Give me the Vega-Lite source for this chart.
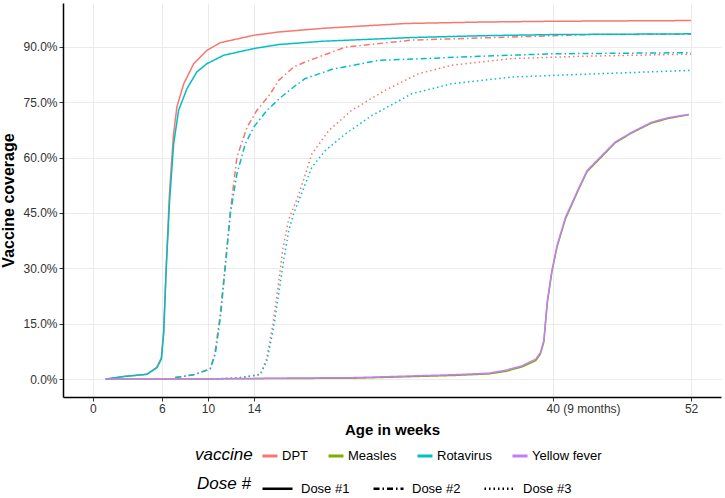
{
  "$schema": "https://vega.github.io/schema/vega-lite/v6.json",
  "autosize": {"type": "none"},
  "padding": {"left": 63, "top": 3, "right": 4, "bottom": 101},
  "width": 658,
  "height": 394,
  "background": "white",
  "config": {
    "font": "Liberation Sans",
    "view": {"stroke": null},
    "axis": {
      "domainColor": "black", "domainWidth": 1.5,
      "tickColor": "#333333", "tickSize": 4, "tickWidth": 1,
      "gridColor": "#EBEBEB", "gridWidth": 1,
      "labelColor": "#333333", "labelFontSize": 12, "labelPadding": 2,
      "titleColor": "black", "titleFontSize": 15, "titleFontWeight": "bold"
    },
    "legend": {
      "titleFontStyle": "italic", "titleFontWeight": "normal", "titleFontSize": 17, "titleColor": "black",
      "labelFontSize": 13, "labelColor": "black"
    }
  },
  "data": {"values": [
    {"vaccine":"DPT","dose":"Dose #1","week":1.1,"coverage":0},
    {"vaccine":"DPT","dose":"Dose #1","week":2.7,"coverage":0.007},
    {"vaccine":"DPT","dose":"Dose #1","week":4.7,"coverage":0.013},
    {"vaccine":"DPT","dose":"Dose #1","week":5.55,"coverage":0.032},
    {"vaccine":"DPT","dose":"Dose #1","week":5.95,"coverage":0.058},
    {"vaccine":"DPT","dose":"Dose #1","week":6.15,"coverage":0.13},
    {"vaccine":"DPT","dose":"Dose #1","week":6.38,"coverage":0.31},
    {"vaccine":"DPT","dose":"Dose #1","week":6.65,"coverage":0.50},
    {"vaccine":"DPT","dose":"Dose #1","week":7.0,"coverage":0.66},
    {"vaccine":"DPT","dose":"Dose #1","week":7.3,"coverage":0.737},
    {"vaccine":"DPT","dose":"Dose #1","week":7.9,"coverage":0.80},
    {"vaccine":"DPT","dose":"Dose #1","week":8.76,"coverage":0.854},
    {"vaccine":"DPT","dose":"Dose #1","week":9.9,"coverage":0.89},
    {"vaccine":"DPT","dose":"Dose #1","week":11.08,"coverage":0.911},
    {"vaccine":"DPT","dose":"Dose #1","week":13.97,"coverage":0.931},
    {"vaccine":"DPT","dose":"Dose #1","week":16.15,"coverage":0.94},
    {"vaccine":"DPT","dose":"Dose #1","week":20,"coverage":0.95},
    {"vaccine":"DPT","dose":"Dose #1","week":27.2,"coverage":0.963},
    {"vaccine":"DPT","dose":"Dose #1","week":34,"coverage":0.967},
    {"vaccine":"DPT","dose":"Dose #1","week":40,"coverage":0.969},
    {"vaccine":"DPT","dose":"Dose #1","week":52,"coverage":0.971},

    {"vaccine":"DPT","dose":"Dose #2","week":7.16,"coverage":0.004},
    {"vaccine":"DPT","dose":"Dose #2","week":8.76,"coverage":0.012},
    {"vaccine":"DPT","dose":"Dose #2","week":10.2,"coverage":0.028},
    {"vaccine":"DPT","dose":"Dose #2","week":10.6,"coverage":0.07},
    {"vaccine":"DPT","dose":"Dose #2","week":11.05,"coverage":0.17},
    {"vaccine":"DPT","dose":"Dose #2","week":11.5,"coverage":0.31},
    {"vaccine":"DPT","dose":"Dose #2","week":11.95,"coverage":0.455},
    {"vaccine":"DPT","dose":"Dose #2","week":12.52,"coverage":0.601},
    {"vaccine":"DPT","dose":"Dose #2","week":13.4,"coverage":0.682},
    {"vaccine":"DPT","dose":"Dose #2","week":14.26,"coverage":0.728},
    {"vaccine":"DPT","dose":"Dose #2","week":15.43,"coverage":0.773},
    {"vaccine":"DPT","dose":"Dose #2","week":16.15,"coverage":0.809},
    {"vaccine":"DPT","dose":"Dose #2","week":17.45,"coverage":0.845},
    {"vaccine":"DPT","dose":"Dose #2","week":18.47,"coverage":0.859},
    {"vaccine":"DPT","dose":"Dose #2","week":21.95,"coverage":0.899},
    {"vaccine":"DPT","dose":"Dose #2","week":27.7,"coverage":0.918},
    {"vaccine":"DPT","dose":"Dose #2","week":35,"coverage":0.925},
    {"vaccine":"DPT","dose":"Dose #2","week":43.1,"coverage":0.933},
    {"vaccine":"DPT","dose":"Dose #2","week":52,"coverage":0.934},

    {"vaccine":"DPT","dose":"Dose #3","week":10.8,"coverage":0},
    {"vaccine":"DPT","dose":"Dose #3","week":12.8,"coverage":0.004},
    {"vaccine":"DPT","dose":"Dose #3","week":14.55,"coverage":0.013},
    {"vaccine":"DPT","dose":"Dose #3","week":15.1,"coverage":0.055},
    {"vaccine":"DPT","dose":"Dose #3","week":15.65,"coverage":0.15},
    {"vaccine":"DPT","dose":"Dose #3","week":16.1,"coverage":0.25},
    {"vaccine":"DPT","dose":"Dose #3","week":16.5,"coverage":0.35},
    {"vaccine":"DPT","dose":"Dose #3","week":17.0,"coverage":0.43},
    {"vaccine":"DPT","dose":"Dose #3","week":17.45,"coverage":0.465},
    {"vaccine":"DPT","dose":"Dose #3","week":17.9,"coverage":0.50},
    {"vaccine":"DPT","dose":"Dose #3","week":19.04,"coverage":0.61},
    {"vaccine":"DPT","dose":"Dose #3","week":20.5,"coverage":0.673},
    {"vaccine":"DPT","dose":"Dose #3","week":22.5,"coverage":0.728},
    {"vaccine":"DPT","dose":"Dose #3","week":25.4,"coverage":0.782},
    {"vaccine":"DPT","dose":"Dose #3","week":28.3,"coverage":0.827},
    {"vaccine":"DPT","dose":"Dose #3","week":31.2,"coverage":0.85},
    {"vaccine":"DPT","dose":"Dose #3","week":36.4,"coverage":0.868},
    {"vaccine":"DPT","dose":"Dose #3","week":42.2,"coverage":0.874},
    {"vaccine":"DPT","dose":"Dose #3","week":52,"coverage":0.88},

    {"vaccine":"Measles","dose":"Dose #1","week":1.1,"coverage":0},
    {"vaccine":"Measles","dose":"Dose #1","week":10,"coverage":0.0005},
    {"vaccine":"Measles","dose":"Dose #1","week":22.8,"coverage":0.0025},
    {"vaccine":"Measles","dose":"Dose #1","week":31.5,"coverage":0.010},
    {"vaccine":"Measles","dose":"Dose #1","week":34.4,"coverage":0.014},
    {"vaccine":"Measles","dose":"Dose #1","week":35.9,"coverage":0.021},
    {"vaccine":"Measles","dose":"Dose #1","week":37.3,"coverage":0.033},
    {"vaccine":"Measles","dose":"Dose #1","week":38.5,"coverage":0.050},
    {"vaccine":"Measles","dose":"Dose #1","week":38.9,"coverage":0.068},
    {"vaccine":"Measles","dose":"Dose #1","week":39.2,"coverage":0.10},
    {"vaccine":"Measles","dose":"Dose #1","week":39.5,"coverage":0.206},
    {"vaccine":"Measles","dose":"Dose #1","week":39.9,"coverage":0.29},
    {"vaccine":"Measles","dose":"Dose #1","week":40.35,"coverage":0.358},
    {"vaccine":"Measles","dose":"Dose #1","week":41.08,"coverage":0.434},
    {"vaccine":"Measles","dose":"Dose #1","week":42.2,"coverage":0.512},
    {"vaccine":"Measles","dose":"Dose #1","week":42.96,"coverage":0.562},
    {"vaccine":"Measles","dose":"Dose #1","week":44.26,"coverage":0.603},
    {"vaccine":"Measles","dose":"Dose #1","week":45.4,"coverage":0.640},
    {"vaccine":"Measles","dose":"Dose #1","week":46.87,"coverage":0.667},
    {"vaccine":"Measles","dose":"Dose #1","week":48.6,"coverage":0.694},
    {"vaccine":"Measles","dose":"Dose #1","week":50.06,"coverage":0.706},
    {"vaccine":"Measles","dose":"Dose #1","week":51.8,"coverage":0.716},

    {"vaccine":"Rotavirus","dose":"Dose #1","week":1.1,"coverage":0},
    {"vaccine":"Rotavirus","dose":"Dose #1","week":2.67,"coverage":0.007},
    {"vaccine":"Rotavirus","dose":"Dose #1","week":4.7,"coverage":0.013},
    {"vaccine":"Rotavirus","dose":"Dose #1","week":5.57,"coverage":0.031},
    {"vaccine":"Rotavirus","dose":"Dose #1","week":5.95,"coverage":0.054},
    {"vaccine":"Rotavirus","dose":"Dose #1","week":6.15,"coverage":0.122},
    {"vaccine":"Rotavirus","dose":"Dose #1","week":6.38,"coverage":0.303},
    {"vaccine":"Rotavirus","dose":"Dose #1","week":6.67,"coverage":0.484},
    {"vaccine":"Rotavirus","dose":"Dose #1","week":7.02,"coverage":0.637},
    {"vaccine":"Rotavirus","dose":"Dose #1","week":7.45,"coverage":0.728},
    {"vaccine":"Rotavirus","dose":"Dose #1","week":8.17,"coverage":0.786},
    {"vaccine":"Rotavirus","dose":"Dose #1","week":9.04,"coverage":0.832},
    {"vaccine":"Rotavirus","dose":"Dose #1","week":9.9,"coverage":0.854},
    {"vaccine":"Rotavirus","dose":"Dose #1","week":11.37,"coverage":0.877},
    {"vaccine":"Rotavirus","dose":"Dose #1","week":13.97,"coverage":0.895},
    {"vaccine":"Rotavirus","dose":"Dose #1","week":16.15,"coverage":0.906},
    {"vaccine":"Rotavirus","dose":"Dose #1","week":20,"coverage":0.915},
    {"vaccine":"Rotavirus","dose":"Dose #1","week":27.7,"coverage":0.925},
    {"vaccine":"Rotavirus","dose":"Dose #1","week":34,"coverage":0.93},
    {"vaccine":"Rotavirus","dose":"Dose #1","week":40,"coverage":0.933},
    {"vaccine":"Rotavirus","dose":"Dose #1","week":52,"coverage":0.935},

    {"vaccine":"Rotavirus","dose":"Dose #2","week":7.16,"coverage":0.004},
    {"vaccine":"Rotavirus","dose":"Dose #2","week":8.76,"coverage":0.012},
    {"vaccine":"Rotavirus","dose":"Dose #2","week":10.2,"coverage":0.027},
    {"vaccine":"Rotavirus","dose":"Dose #2","week":10.64,"coverage":0.068},
    {"vaccine":"Rotavirus","dose":"Dose #2","week":11.08,"coverage":0.167},
    {"vaccine":"Rotavirus","dose":"Dose #2","week":11.51,"coverage":0.303},
    {"vaccine":"Rotavirus","dose":"Dose #2","week":11.95,"coverage":0.448},
    {"vaccine":"Rotavirus","dose":"Dose #2","week":12.52,"coverage":0.556},
    {"vaccine":"Rotavirus","dose":"Dose #2","week":13.25,"coverage":0.637},
    {"vaccine":"Rotavirus","dose":"Dose #2","week":13.97,"coverage":0.682},
    {"vaccine":"Rotavirus","dose":"Dose #2","week":15.13,"coverage":0.728},
    {"vaccine":"Rotavirus","dose":"Dose #2","week":16.3,"coverage":0.762},
    {"vaccine":"Rotavirus","dose":"Dose #2","week":17.45,"coverage":0.791},
    {"vaccine":"Rotavirus","dose":"Dose #2","week":18.47,"coverage":0.814},
    {"vaccine":"Rotavirus","dose":"Dose #2","week":20.8,"coverage":0.839},
    {"vaccine":"Rotavirus","dose":"Dose #2","week":24.8,"coverage":0.863},
    {"vaccine":"Rotavirus","dose":"Dose #2","week":33.5,"coverage":0.874},
    {"vaccine":"Rotavirus","dose":"Dose #2","week":40,"coverage":0.881},
    {"vaccine":"Rotavirus","dose":"Dose #2","week":52,"coverage":0.884},

    {"vaccine":"Rotavirus","dose":"Dose #3","week":10.8,"coverage":0},
    {"vaccine":"Rotavirus","dose":"Dose #3","week":12.8,"coverage":0.004},
    {"vaccine":"Rotavirus","dose":"Dose #3","week":14.55,"coverage":0.012},
    {"vaccine":"Rotavirus","dose":"Dose #3","week":15.13,"coverage":0.05},
    {"vaccine":"Rotavirus","dose":"Dose #3","week":15.71,"coverage":0.14},
    {"vaccine":"Rotavirus","dose":"Dose #3","week":16.15,"coverage":0.23},
    {"vaccine":"Rotavirus","dose":"Dose #3","week":16.58,"coverage":0.321},
    {"vaccine":"Rotavirus","dose":"Dose #3","week":17.02,"coverage":0.402},
    {"vaccine":"Rotavirus","dose":"Dose #3","week":17.45,"coverage":0.448},
    {"vaccine":"Rotavirus","dose":"Dose #3","week":17.9,"coverage":0.484},
    {"vaccine":"Rotavirus","dose":"Dose #3","week":19.04,"coverage":0.574},
    {"vaccine":"Rotavirus","dose":"Dose #3","week":20.2,"coverage":0.619},
    {"vaccine":"Rotavirus","dose":"Dose #3","week":21.95,"coverage":0.664},
    {"vaccine":"Rotavirus","dose":"Dose #3","week":24.26,"coverage":0.714},
    {"vaccine":"Rotavirus","dose":"Dose #3","week":27.74,"coverage":0.773},
    {"vaccine":"Rotavirus","dose":"Dose #3","week":31.2,"coverage":0.80},
    {"vaccine":"Rotavirus","dose":"Dose #3","week":36.4,"coverage":0.818},
    {"vaccine":"Rotavirus","dose":"Dose #3","week":42.2,"coverage":0.825},
    {"vaccine":"Rotavirus","dose":"Dose #3","week":52,"coverage":0.836},

    {"vaccine":"Yellow fever","dose":"Dose #1","week":1.1,"coverage":0},
    {"vaccine":"Yellow fever","dose":"Dose #1","week":10,"coverage":0.001},
    {"vaccine":"Yellow fever","dose":"Dose #1","week":22.8,"coverage":0.004},
    {"vaccine":"Yellow fever","dose":"Dose #1","week":31.5,"coverage":0.012},
    {"vaccine":"Yellow fever","dose":"Dose #1","week":34.4,"coverage":0.016},
    {"vaccine":"Yellow fever","dose":"Dose #1","week":35.9,"coverage":0.024},
    {"vaccine":"Yellow fever","dose":"Dose #1","week":37.3,"coverage":0.036},
    {"vaccine":"Yellow fever","dose":"Dose #1","week":38.5,"coverage":0.054},
    {"vaccine":"Yellow fever","dose":"Dose #1","week":38.9,"coverage":0.072},
    {"vaccine":"Yellow fever","dose":"Dose #1","week":39.2,"coverage":0.105},
    {"vaccine":"Yellow fever","dose":"Dose #1","week":39.5,"coverage":0.212},
    {"vaccine":"Yellow fever","dose":"Dose #1","week":39.9,"coverage":0.294},
    {"vaccine":"Yellow fever","dose":"Dose #1","week":40.35,"coverage":0.362},
    {"vaccine":"Yellow fever","dose":"Dose #1","week":41.08,"coverage":0.438},
    {"vaccine":"Yellow fever","dose":"Dose #1","week":42.2,"coverage":0.515},
    {"vaccine":"Yellow fever","dose":"Dose #1","week":42.96,"coverage":0.565},
    {"vaccine":"Yellow fever","dose":"Dose #1","week":44.26,"coverage":0.606},
    {"vaccine":"Yellow fever","dose":"Dose #1","week":45.4,"coverage":0.642},
    {"vaccine":"Yellow fever","dose":"Dose #1","week":46.87,"coverage":0.669},
    {"vaccine":"Yellow fever","dose":"Dose #1","week":48.6,"coverage":0.696},
    {"vaccine":"Yellow fever","dose":"Dose #1","week":50.06,"coverage":0.708},
    {"vaccine":"Yellow fever","dose":"Dose #1","week":51.8,"coverage":0.717}
  ]},
  "mark": {"type": "line", "strokeWidth": 1.5, "interpolate": "linear"},
  "encoding": {
    "x": {
      "field": "week", "type": "quantitative",
      "scale": {"domain": [-2.6, 54.6], "nice": false, "zero": false},
      "axis": {
        "title": "Age in weeks", "titlePadding": 8,
        "values": [0, 6, 10, 14, 40, 52],
        "labelExpr": "datum.value == 40 ? '40  (9 months)' : datum.label",
        "labelAlign": {"condition": {"test": "datum.value == 40", "value": "left"}, "value": "center"},
        "labelOffset": {"condition": {"test": "datum.value == 40", "value": -7}, "value": 0}
      }
    },
    "y": {
      "field": "coverage", "type": "quantitative",
      "scale": {"domain": [-0.0485, 1.0185], "nice": false, "zero": false},
      "axis": {
        "title": "Vaccine coverage", "titlePadding": 6, "titleFontSize": 16,
        "values": [0, 0.15, 0.3, 0.45, 0.6, 0.75, 0.9], "format": ".1%"
      }
    },
    "color": {
      "field": "vaccine", "type": "nominal",
      "scale": {"domain": ["DPT", "Measles", "Rotavirus", "Yellow fever"], "range": ["#F8766D", "#7CAE00", "#00BFC4", "#C77CFF"]},
      "legend": {
        "title": "vaccine", "orient": "none", "legendX": 132, "legendY": 444,
        "direction": "horizontal", "titleOrient": "left", "titlePadding": 8,
        "titleAnchor": "middle", "titleBaseline": "middle",
        "symbolType": "stroke", "symbolStrokeWidth": 3, "symbolSize": 225,
        "columnPadding": 14, "labelOffset": 3
      }
    },
    "strokeDash": {
      "field": "dose", "type": "nominal",
      "scale": {"domain": ["Dose #1", "Dose #2", "Dose #3"], "range": [[1, 0], [6, 3, 1.5, 3], [1.5, 3]]},
      "legend": {
        "title": "Dose #", "orient": "none", "legendX": 134, "legendY": 469,
        "direction": "horizontal", "titleOrient": "left", "titlePadding": 10,
        "titleAnchor": "middle", "titleBaseline": "middle",
        "symbolType": "stroke", "symbolStrokeWidth": 2.5, "symbolSize": 900,
        "symbolStrokeColor": "black", "columnPadding": 18, "labelOffset": 7
      }
    }
  }
}
